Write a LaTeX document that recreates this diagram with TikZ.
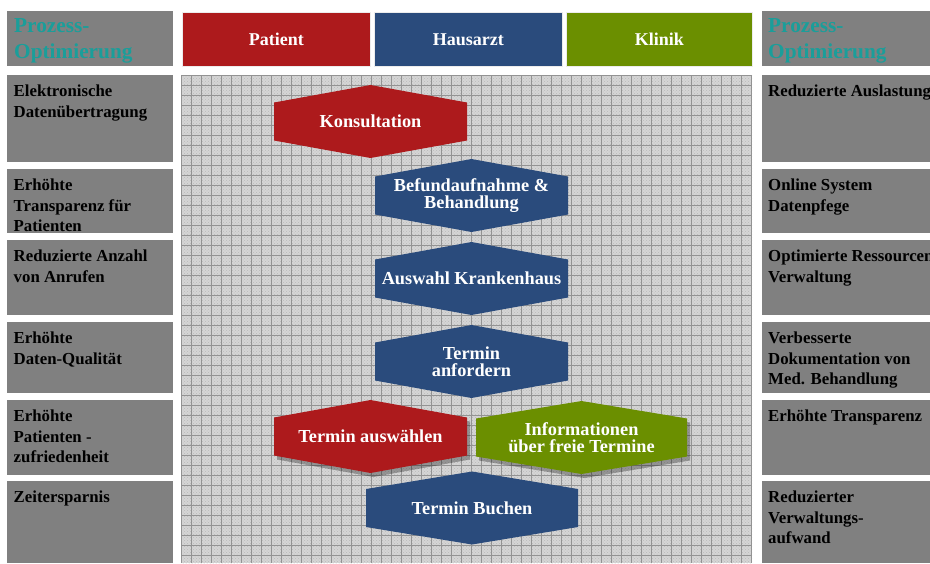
\documentclass[tikz,border=0pt]{standalone}
\usepackage{fontspec}
\setmainfont{Liberation Serif}
\usetikzlibrary{patterns,shadows}

\definecolor{patientrot}{HTML}{AD1A1C}
\definecolor{arztblau}{HTML}{2A4B7C}
\definecolor{klinikgruen}{HTML}{6B8F00}
\definecolor{kastengrau}{HTML}{808080}
\definecolor{tuerkis}{HTML}{1A9E9A}

\tikzset{
  kasten/.style={fill=kastengrau, inner sep=0pt, anchor=north west, minimum width=166pt},
  kastentext/.style={anchor=north west, inner sep=0pt, align=left,
    font=\fontsize{16.8}{20.5}\selectfont\bfseries},
  titeltext/.style={anchor=north west, inner sep=0pt, align=left, text=tuerkis,
    font=\fontsize{21.3}{26}\selectfont\bfseries},
  rolle/.style={anchor=north west, inner sep=0pt, minimum height=54pt, text=white,
    draw=white!85!gray, line width=0.6pt, font=\fontsize{18}{20}\selectfont\bfseries},
  schritttext/.style={inner sep=0pt, align=center, text=white,
    font=\fontsize{18.3}{17}\selectfont\bfseries},
  schatten/.style={drop shadow={shadow xshift=3pt, shadow yshift=-4pt,
    fill=black, opacity=0.3}}
}

% hexagon with its label: [extra] name, centre, half width, colour, text
\newcommand{\schritt}[6][]{%
  \begin{scope}[shift={(#3)}]
    \fill[#5,#1] (-#4,-19) -- (0,-36.5) -- (#4,-19) -- (#4,19) -- (0,36.5) -- (-#4,19) -- cycle;
  \end{scope}
  \node[schritttext] (#2) at (#3) {#6};
}

\begin{document}
\begin{tikzpicture}[x=1pt,y=-1pt]
  \useasboundingbox (0,0) rectangle (930,563);
  \fill[white] (0,0) rectangle (930,563);

  % raster in the middle
  \fill[gray!33] (181,75) rectangle (752,563);
  \fill[pattern=crosshatch dots, pattern color=gray!55] (181,75) rectangle (752,563);
  \begin{scope}[shift={(181,75)}]
    \draw[gray!85, line width=0.7pt, step=10pt] (0pt,-488pt) grid (571pt,0pt);
  \end{scope}

  % roles
  \node[rolle, fill=patientrot, minimum width=188pt] (patient) at (182,12) {Patient};
  \node[rolle, fill=arztblau, minimum width=188pt] (arzt) at (374,12) {Hausarzt};
  \node[rolle, fill=klinikgruen, minimum width=186pt] (klinik) at (566,12) {Klinik};

  % left column
  \node[kasten, minimum height=55pt] (lkopf) at (7,11) {};
  \node[titeltext] (lkopft) at ([xshift=7pt,yshift=-7pt]lkopf.north west) {Prozess-\\Optimierung};
  \node[kasten, minimum height=87pt] (l1) at (7,75) {};
  \node[kastentext] (l1t) at ([xshift=6.5pt,yshift=-10pt]l1.north west) {Elektronische\\Datenübertragung};
  \node[kasten, minimum height=64pt] (l2) at (7,169) {};
  \node[kastentext] (l2t) at ([xshift=6.5pt,yshift=-10pt]l2.north west) {Erhöhte\\Transparenz für\\Patienten};
  \node[kasten, minimum height=75pt] (l3) at (7,240) {};
  \node[kastentext] (l3t) at ([xshift=6.5pt,yshift=-10pt]l3.north west) {Reduzierte Anzahl\\von Anrufen};
  \node[kasten, minimum height=71pt] (l4) at (7,322) {};
  \node[kastentext] (l4t) at ([xshift=6.5pt,yshift=-10pt]l4.north west) {Erhöhte\\Daten-Qualität};
  \node[kasten, minimum height=75pt] (l5) at (7,400) {};
  \node[kastentext] (l5t) at ([xshift=6.5pt,yshift=-10pt]l5.north west) {Erhöhte\\Patienten -\\zufriedenheit};
  \node[kasten, minimum height=82pt] (l6) at (7,481) {};
  \node[kastentext] (l6t) at ([xshift=6.5pt,yshift=-10pt]l6.north west) {Zeitersparnis};

  % right column
  \node[kasten, minimum width=168pt, minimum height=55pt] (rkopf) at (762,11) {};
  \node[titeltext] (rkopft) at ([xshift=6pt,yshift=-7pt]rkopf.north west) {Prozess-\\Optimierung};
  \node[kasten, minimum width=168pt, minimum height=87pt] (r1) at (762,75) {};
  \node[kastentext] (r1t) at ([xshift=6pt,yshift=-10pt]r1.north west) {Reduzierte Auslastung};
  \node[kasten, minimum width=168pt, minimum height=64pt] (r2) at (762,169) {};
  \node[kastentext] (r2t) at ([xshift=6pt,yshift=-10pt]r2.north west) {Online System\\Datenpfege};
  \node[kasten, minimum width=168pt, minimum height=75pt] (r3) at (762,240) {};
  \node[kastentext] (r3t) at ([xshift=6pt,yshift=-10pt]r3.north west) {Optimierte Ressourcen\\Verwaltung};
  \node[kasten, minimum width=168pt, minimum height=71pt] (r4) at (762,322) {};
  \node[kastentext] (r4t) at ([xshift=6pt,yshift=-10pt]r4.north west) {Verbesserte\\Dokumentation von\\Med. Behandlung};
  \node[kasten, minimum width=168pt, minimum height=75pt] (r5) at (762,400) {};
  \node[kastentext] (r5t) at ([xshift=6pt,yshift=-10pt]r5.north west) {Erhöhte Transparenz};
  \node[kasten, minimum width=168pt, minimum height=82pt] (r6) at (762,481) {};
  \node[kastentext] (r6t) at ([xshift=6pt,yshift=-10pt]r6.north west) {Reduzierter\\Verwaltungs-\\aufwand};

  % process steps
  \schritt{kons}{370.5,121.5}{96.5}{patientrot}{Konsultation}
  \schritt{befund}{471.5,195.5}{96.5}{arztblau}{Befundaufnahme \&\\Behandlung}
  \schritt{auswahl}{471.5,278.5}{96.5}{arztblau}{Auswahl Krankenhaus}
  \schritt{anfordern}{471.5,361.5}{96.5}{arztblau}{Termin\\anfordern}
  \schritt[schatten]{waehlen}{370.5,436.5}{96.5}{patientrot}{Termin auswählen}
  \schritt[schatten]{info}{581.5,437.5}{105.5}{klinikgruen}{Informationen\\über freie Termine}
  \schritt{buchen}{472,508}{106}{arztblau}{Termin Buchen}
\end{tikzpicture}
\end{document}
